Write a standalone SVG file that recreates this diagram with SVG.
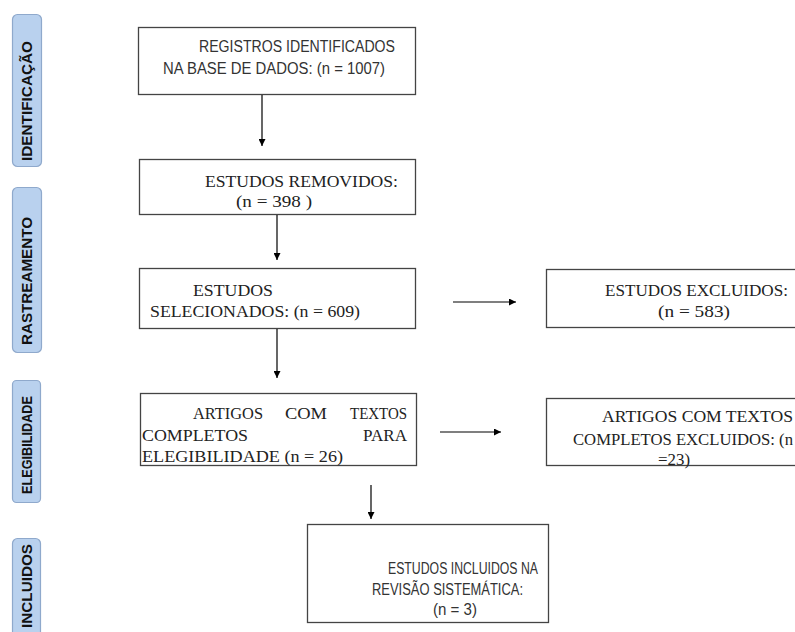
<svg xmlns="http://www.w3.org/2000/svg" width="795" height="632" viewBox="0 0 795 632">
<defs>
<marker id="ah" viewBox="0 0 10 10" refX="10" refY="5" markerWidth="7" markerHeight="7" markerUnits="userSpaceOnUse" orient="auto">
<path d="M0,0 L10,5 L0,10 Z" fill="#000"/>
</marker>
</defs>
<style>
.side rect{fill:#b9d1ee;stroke:#8fa9cc;stroke-width:1.2}
.side text{font-family:"Liberation Sans",Arial,sans-serif;font-weight:bold;font-size:14px;fill:#111;text-anchor:middle}
.box rect{fill:#fff;stroke:#444;stroke-width:1.3}
.cal{font-family:"Liberation Sans",Arial,sans-serif;font-size:16px;fill:#333}
.tim{font-family:"Liberation Serif","Times New Roman",serif;font-size:16px;fill:#222}
.conn line{stroke:#000;stroke-width:1.2;marker-end:url(#ah)}
</style>
<rect width="795" height="632" fill="#fff"/>
<g id="lbl-identificacao" class="side">
<rect x="12.5" y="14.5" width="29" height="152" rx="5"/>
<text transform="translate(32,101) rotate(-90)" textLength="120" lengthAdjust="spacingAndGlyphs">IDENTIFICAÇÃO</text>
</g>
<g id="lbl-rastreamento" class="side">
<rect x="12.5" y="187.5" width="29" height="165" rx="5"/>
<text transform="translate(32,281) rotate(-90)" textLength="128" lengthAdjust="spacingAndGlyphs">RASTREAMENTO</text>
</g>
<g id="lbl-elegibilidade" class="side">
<rect x="12.5" y="380.5" width="28" height="122" rx="4"/>
<text transform="translate(32,445) rotate(-90)" textLength="98" lengthAdjust="spacingAndGlyphs">ELEGIBILIDADE</text>
</g>
<g id="lbl-incluidos" class="side">
<rect x="12.5" y="538.5" width="28" height="110" rx="5"/>
<text transform="translate(32,586) rotate(-90)" textLength="84" lengthAdjust="spacingAndGlyphs">INCLUIDOS</text>
</g>
<g id="n-registros" class="box">
<rect x="138.5" y="27.5" width="277" height="67"/>
<text class="cal" x="199" y="52" textLength="196" lengthAdjust="spacingAndGlyphs">REGISTROS IDENTIFICADOS</text>
<text class="cal" x="163" y="74" textLength="222" lengthAdjust="spacingAndGlyphs">NA BASE DE DADOS: (n = 1007)</text>
</g>
<g id="n-removidos" class="box">
<rect x="139.5" y="159.5" width="276" height="55"/>
<text class="tim" x="205" y="187" textLength="193" lengthAdjust="spacingAndGlyphs">ESTUDOS REMOVIDOS:</text>
<text class="tim" x="236" y="207" textLength="76" lengthAdjust="spacingAndGlyphs">(n = 398 )</text>
</g>
<g id="n-selecionados" class="box">
<rect x="139.5" y="268.5" width="276" height="60"/>
<text class="tim" x="193" y="296" textLength="80" lengthAdjust="spacingAndGlyphs">ESTUDOS</text>
<text class="tim" x="150" y="317" textLength="210" lengthAdjust="spacingAndGlyphs">SELECIONADOS: (n = 609)</text>
</g>
<g id="n-artigos" class="box">
<rect x="140.5" y="393.5" width="276" height="72"/>
<text class="tim" x="193" y="419" textLength="70" lengthAdjust="spacingAndGlyphs">ARTIGOS</text>
<text class="tim" x="285" y="419" textLength="42" lengthAdjust="spacingAndGlyphs">COM</text>
<text class="tim" x="350" y="419" textLength="57" lengthAdjust="spacingAndGlyphs">TEXTOS</text>
<text class="tim" x="142" y="441" textLength="106" lengthAdjust="spacingAndGlyphs">COMPLETOS</text>
<text class="tim" x="363" y="441" textLength="44" lengthAdjust="spacingAndGlyphs">PARA</text>
<text class="tim" x="142" y="462" textLength="201" lengthAdjust="spacingAndGlyphs">ELEGIBILIDADE  (n = 26)</text>
</g>
<g id="n-excluidos" class="box">
<rect x="546.5" y="269.5" width="260" height="58"/>
<text class="tim" x="605" y="296" textLength="183" lengthAdjust="spacingAndGlyphs">ESTUDOS EXCLUIDOS:</text>
<text class="tim" x="658" y="317" textLength="72" lengthAdjust="spacingAndGlyphs">(n =  583)</text>
</g>
<g id="n-artigos-excluidos" class="box">
<rect x="546.5" y="398.5" width="260" height="67"/>
<text class="tim" x="602" y="422" textLength="191" lengthAdjust="spacingAndGlyphs">ARTIGOS COM TEXTOS</text>
<text class="tim" x="573" y="445" textLength="220" lengthAdjust="spacingAndGlyphs">COMPLETOS EXCLUIDOS: (n</text>
<text class="tim" x="658" y="465" textLength="32" lengthAdjust="spacingAndGlyphs">=23)</text>
</g>
<g id="n-incluidos" class="box">
<rect x="307.5" y="524.5" width="241" height="98"/>
<text class="cal" x="388" y="574" textLength="150" lengthAdjust="spacingAndGlyphs">ESTUDOS INCLUIDOS NA</text>
<text class="cal" x="372" y="595" textLength="151" lengthAdjust="spacingAndGlyphs">REVISÃO SISTEMÁTICA:</text>
<text class="cal" x="433" y="615" textLength="44" lengthAdjust="spacingAndGlyphs">(n = 3)</text>
</g>
<g id="connectors" class="conn">
<line x1="262" y1="95" x2="262" y2="146"/>
<line x1="277" y1="215" x2="277" y2="260"/>
<line x1="277" y1="329" x2="277" y2="378"/>
<line x1="453" y1="302" x2="516" y2="302"/>
<line x1="440" y1="432" x2="501" y2="432"/>
<line x1="371" y1="485" x2="371" y2="519"/>
</g>
</svg>
